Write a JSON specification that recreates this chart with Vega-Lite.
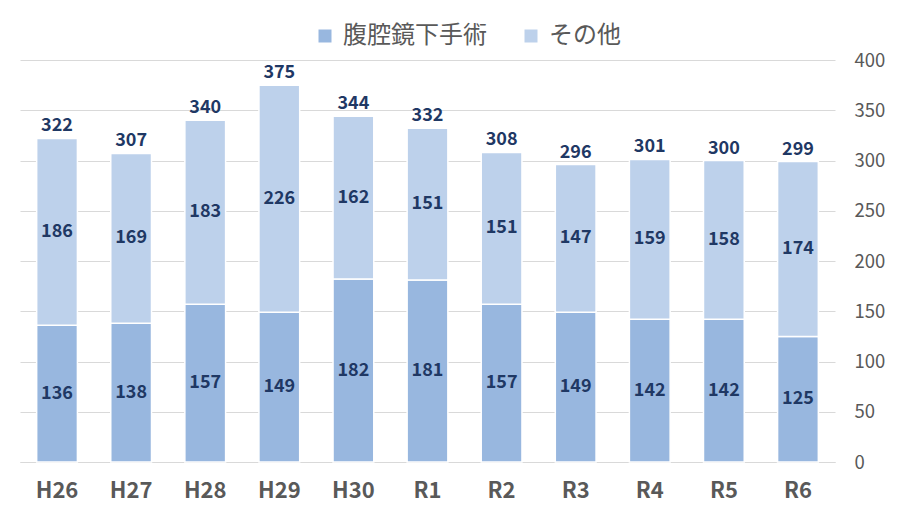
{
  "$schema": "https://vega.github.io/schema/vega-lite/v6.json",
  "width": 815,
  "height": 402,
  "autosize": {"type": "none"},
  "padding": {"left": 20, "top": 60, "right": 68, "bottom": 58},
  "background": "white",
  "view": {"stroke": null},
  "data": {
    "values": [
      {"year": "H26", "type": "腹腔鏡下手術", "ord": 1, "value": 136},
      {"year": "H26", "type": "その他", "ord": 2, "value": 186},
      {"year": "H27", "type": "腹腔鏡下手術", "ord": 1, "value": 138},
      {"year": "H27", "type": "その他", "ord": 2, "value": 169},
      {"year": "H28", "type": "腹腔鏡下手術", "ord": 1, "value": 157},
      {"year": "H28", "type": "その他", "ord": 2, "value": 183},
      {"year": "H29", "type": "腹腔鏡下手術", "ord": 1, "value": 149},
      {"year": "H29", "type": "その他", "ord": 2, "value": 226},
      {"year": "H30", "type": "腹腔鏡下手術", "ord": 1, "value": 182},
      {"year": "H30", "type": "その他", "ord": 2, "value": 162},
      {"year": "R1", "type": "腹腔鏡下手術", "ord": 1, "value": 181},
      {"year": "R1", "type": "その他", "ord": 2, "value": 151},
      {"year": "R2", "type": "腹腔鏡下手術", "ord": 1, "value": 157},
      {"year": "R2", "type": "その他", "ord": 2, "value": 151},
      {"year": "R3", "type": "腹腔鏡下手術", "ord": 1, "value": 149},
      {"year": "R3", "type": "その他", "ord": 2, "value": 147},
      {"year": "R4", "type": "腹腔鏡下手術", "ord": 1, "value": 142},
      {"year": "R4", "type": "その他", "ord": 2, "value": 159},
      {"year": "R5", "type": "腹腔鏡下手術", "ord": 1, "value": 142},
      {"year": "R5", "type": "その他", "ord": 2, "value": 158},
      {"year": "R6", "type": "腹腔鏡下手術", "ord": 1, "value": 125},
      {"year": "R6", "type": "その他", "ord": 2, "value": 174}
    ]
  },
  "encoding": {
    "x": {
      "field": "year",
      "type": "nominal",
      "sort": null,
      "scale": {"paddingInner": 0.45},
      "axis": {
        "title": null,
        "labelAngle": 0,
        "labelFontSize": 22,
        "labelFontWeight": "bold",
        "labelColor": "#595959",
        "labelPadding": 18,
        "ticks": false,
        "domainColor": "#d9d9d9",
        "domainWidth": 1
      }
    }
  },
  "layer": [
    {
      "mark": {"type": "bar", "stroke": "white", "strokeWidth": 1.5},
      "encoding": {
        "y": {
          "field": "value",
          "type": "quantitative",
          "stack": "zero",
          "scale": {"domain": [0, 400]},
          "axis": {
            "orient": "right",
            "title": null,
            "values": [0, 50, 100, 150, 200, 250, 300, 350, 400],
            "labelFontSize": 18.5,
            "labelColor": "#595959",
            "labelPadding": 19,
            "ticks": false,
            "domain": false,
            "gridColor": "#d9d9d9"
          }
        },
        "color": {
          "field": "type",
          "type": "nominal",
          "scale": {"domain": ["腹腔鏡下手術", "その他"], "range": ["#98b7df", "#bdd1eb"]},
          "legend": {
            "title": null,
            "orient": "none",
            "direction": "horizontal",
            "legendX": 293,
            "legendY": -36,
            "symbolType": "square",
            "symbolSize": 169,
            "symbolStrokeWidth": 0,
            "labelFontSize": 24,
            "labelColor": "#595959",
            "columnPadding": 32,
            "labelOffset": 6
          }
        },
        "order": {"field": "ord"}
      }
    },
    {
      "mark": {"type": "text", "fontSize": 18, "fontWeight": "bold", "color": "#1f3864"},
      "encoding": {
        "y": {"field": "value", "type": "quantitative", "stack": "zero", "bandPosition": 0.5},
        "detail": {"field": "type"},
        "order": {"field": "ord"},
        "text": {"field": "value", "type": "quantitative"}
      }
    },
    {
      "mark": {"type": "text", "fontSize": 18, "fontWeight": "bold", "color": "#1f3864", "baseline": "bottom", "dy": -3},
      "encoding": {
        "y": {"aggregate": "sum", "field": "value", "type": "quantitative"},
        "text": {"aggregate": "sum", "field": "value", "type": "quantitative"}
      }
    }
  ],
  "config": {
    "font": "Noto Sans CJK JP"
  }
}
